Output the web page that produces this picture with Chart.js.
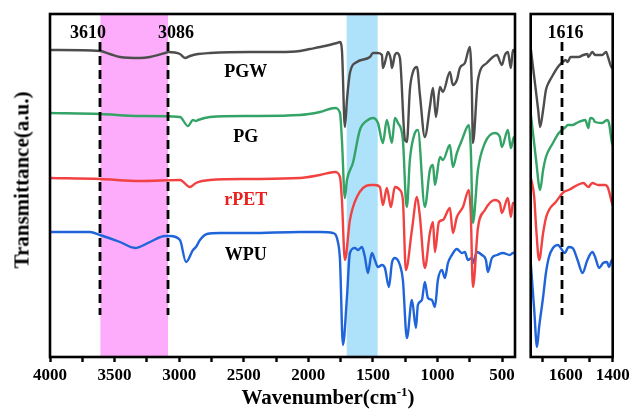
<!DOCTYPE html>
<html>
<head>
<meta charset="utf-8">
<script src="https://cdn.jsdelivr.net/npm/chart.js@4.4.0/dist/chart.umd.min.js"></script>
<style>
  body { margin: 0; background: #fff; }
  #wrap { position: relative; width: 631px; height: 411px; font-family: "Liberation Serif", "Times New Roman", serif; }
  #left { position: absolute; left: 0; top: 0; }
  #right { position: absolute; left: 520px; top: 0; }
  .title { position: absolute; font-weight: bold; font-size: 21px; white-space: nowrap; color: #000; }
  #ytitle { left: 22px; top: 180px; transform: translate(-50%, -50%) rotate(-90deg); }
  #xtitle { left: 328px; top: 397px; transform: translate(-50%, -50%); }
  #xtitle sup { font-size: 13px; line-height: 0; }
</style>
</head>
<body>
<div id="wrap">
  <canvas id="left" width="520" height="411"></canvas>
  <canvas id="right" width="111" height="411"></canvas>
  <div class="title" id="ytitle">Transmittance(a.u.)</div>
  <div class="title" id="xtitle">Wavenumber(cm<sup>-1</sup>)</div>
</div>
<script>
// spectra: [wavenumber, transmittance (a.u., stacked)]
const pgw = [[4000,307],[3613,306],[3536,303],[3458,300],[3303,299],[3226,300],[3110,304],[3087,305],[2994,303],[2955,299],[2916,301],[2854,303],[2762,304],[2452,305],[2220,305],[2065,306],[1988,308],[1910,310],[1779,314],[1755,315],[1740,307],[1717,230],[1701,257],[1678,284],[1624,295],[1523,300],[1500,304],[1461,304],[1430,302],[1423,289],[1392,302],[1384,305],[1361,297],[1353,289],[1330,302],[1314,304],[1291,299],[1252,217],[1237,215],[1214,267],[1190,285],[1159,290],[1136,262],[1098,220],[1059,250],[1035,269],[1012,240],[981,270],[958,265],[904,285],[881,272],[850,277],[827,289],[788,294],[749,310],[734,267],[726,214],[687,277],[618,294],[540,302],[502,292],[478,302],[455,305],[432,289],[416,307],[400,305]];
const pg = [[4000,244],[3613,243],[3303,241],[2994,240],[2932,231],[2893,237],[2870,236],[2854,237],[2762,240],[2452,241],[2065,242],[1910,245],[1794,249],[1755,244],[1740,217],[1717,159],[1701,177],[1655,194],[1601,227],[1539,237],[1500,239],[1461,234],[1423,214],[1392,237],[1353,214],[1330,239],[1306,234],[1268,217],[1245,157],[1237,150],[1214,197],[1175,224],[1152,227],[1098,150],[1059,187],[1035,192],[1020,172],[981,200],[958,197],[904,212],[881,190],[850,204],[811,217],[757,232],[742,207],[726,134],[687,187],[633,214],[556,224],[517,220],[502,210],[455,227],[432,209],[408,220],[400,220]];
const rpet = [[4000,179],[3613,178],[3303,176],[2994,177],[2916,170],[2870,174],[2762,177],[2452,178],[2065,179],[1910,182],[1794,185],[1755,180],[1740,157],[1717,97],[1678,137],[1624,160],[1523,172],[1485,172],[1446,170],[1423,152],[1392,169],[1361,150],[1330,170],[1291,167],[1268,157],[1245,87],[1198,127],[1159,160],[1136,140],[1098,89],[1059,124],[1035,135],[1020,105],[989,135],[958,137],[904,149],[881,124],[850,140],[803,150],[757,167],[742,142],[726,70],[687,129],[633,147],[556,157],[517,154],[502,144],[455,159],[432,140],[416,154],[400,154]];
const wpu = [[4000,125],[3690,125],[3613,122],[3458,115],[3342,109],[3226,115],[3110,121],[3071,121],[2994,117],[2947,95],[2893,107],[2870,110],[2839,117],[2785,123],[2684,124],[2452,124],[2065,125],[1910,125],[1810,124],[1771,115],[1755,97],[1732,12],[1701,60],[1678,104],[1639,109],[1616,107],[1585,110],[1562,100],[1539,84],[1508,104],[1485,97],[1461,90],[1430,92],[1407,89],[1376,70],[1353,94],[1330,99],[1291,92],[1268,77],[1237,19],[1198,57],[1167,29],[1152,52],[1121,57],[1098,75],[1074,59],[1043,57],[1020,50],[997,77],[966,87],[943,79],[919,94],[889,102],[850,108],[811,104],[788,105],[765,97],[734,99],[726,94],[695,105],[656,102],[625,97],[610,85],[579,99],[540,102],[494,104],[440,102],[416,104],[400,104]];

// zoomed 1750-1400 window
const pgwZoom = [[1750,309],[1735,280],[1718,247],[1710,230],[1697,247],[1685,267],[1672,275],[1655,282],[1634,290],[1613,295],[1601,297],[1592,295],[1580,300],[1546,300],[1525,302],[1508,303],[1504,300],[1487,305],[1475,302],[1445,302],[1428,305],[1420,300],[1403,289],[1400,289]];
const pgZoom = [[1750,244],[1727,197],[1710,167],[1697,187],[1685,200],[1655,214],[1630,224],[1601,230],[1592,232],[1571,232],[1546,235],[1517,237],[1504,229],[1496,239],[1483,238],[1475,235],[1445,234],[1424,237],[1416,234],[1403,214],[1400,212]];
const rpetZoom = [[1750,180],[1735,160],[1727,130],[1714,97],[1697,124],[1685,139],[1672,147],[1643,155],[1609,165],[1588,167],[1550,172],[1525,174],[1504,170],[1487,174],[1462,172],[1432,172],[1420,169],[1403,154],[1400,152]];
const wpuZoom = [[1750,95],[1735,47],[1723,10],[1714,30],[1697,60],[1685,84],[1672,100],[1655,109],[1634,112],[1622,109],[1605,104],[1588,110],[1571,109],[1550,97],[1529,84],[1508,97],[1487,105],[1475,100],[1458,89],[1441,94],[1424,95],[1416,90],[1403,97],[1400,97]];

const curveNames = ["PGW", "PG", "rPET", "WPU"];
const leftTicks = [4000, 3750, 3500, 3250, 3000, 2750, 2500, 2250, 2000, 1750, 1500, 1250, 1000, 750, 500];
const leftLabels = [4000, 3500, 3000, 2500, 2000, 1500, 1000, 500];
const rightTicks = [1700, 1600, 1500, 1400];
const rightLabels = [1600, 1400];
const markLines = [3610, 3086];
const markLinesZoom = [1616];

const colors = ["#4d4d4d", "#33a366", "#f24141", "#1f64d8"];
const FONT = '"Liberation Serif", "Times New Roman", serif';

// bands, dashed marker lines, labels and the box frame
const decor = {
  id: "decor",
  beforeDatasetsDraw(chart, args, opts) {
    const { ctx, chartArea: a, scales: { x } } = chart;
    ctx.save();
    opts.bands.forEach(b => {
      const x1 = x.getPixelForValue(b.from), x2 = x.getPixelForValue(b.to);
      ctx.fillStyle = b.color;
      ctx.fillRect(Math.min(x1, x2), a.top, Math.abs(x2 - x1), a.bottom - a.top);
    });
    ctx.restore();
  },
  afterDatasetsDraw(chart, args, opts) {
    const { ctx, chartArea: a, scales: { x, y } } = chart;
    ctx.save();
    ctx.strokeStyle = "#000";
    ctx.lineWidth = 2.8;
    ctx.setLineDash([9, 5]);
    opts.lines.forEach(v => {
      const px = Math.round(x.getPixelForValue(v));
      ctx.beginPath();
      ctx.moveTo(px, y.getPixelForValue(315));
      ctx.lineTo(px, y.getPixelForValue(42));
      ctx.stroke();
    });
    ctx.setLineDash([]);
    ctx.font = "bold 18px " + FONT;
    ctx.textAlign = "center";
    ctx.textBaseline = "middle";
    opts.texts.forEach(t => {
      ctx.fillStyle = t.color || "#000";
      ctx.fillText(t.text, x.getPixelForValue(t.x), y.getPixelForValue(t.y));
    });
    ctx.lineWidth = 2.6;
    ctx.strokeRect(a.left, a.top, a.right - a.left, a.bottom - a.top);
    ctx.restore();
  }
};

function makeChart(id, series, range, ticks, labels, padLeft, padRight, extra) {
  return new Chart(document.getElementById(id), {
    type: "line",
    data: {
      datasets: series.map((s, i) => ({
        label: curveNames[i],
        data: s.map(p => ({ x: p[0], y: p[1] })),
        borderColor: colors[i],
        borderWidth: 2.4,
        pointRadius: 0,
        fill: false,
        cubicInterpolationMode: "monotone"
      }))
    },
    options: {
      responsive: false,
      animation: false,
      layout: { padding: { left: padLeft, right: padRight, top: 14, bottom: 0 } },
      plugins: { legend: { display: false }, tooltip: { enabled: false }, decor: extra },
      scales: {
        x: {
          type: "linear",
          reverse: true,
          min: range[1],
          max: range[0],
          afterBuildTicks: s => { s.ticks = ticks.map(v => ({ value: v })); },
          afterFit: s => { s.height = 54; s.paddingLeft = 0; s.paddingRight = 0; },
          border: { display: false },
          grid: { display: true, drawOnChartArea: false, drawTicks: true, tickLength: 5, tickWidth: 2.4, tickColor: "#000" },
          ticks: {
            autoSkip: false,
            maxRotation: 0,
            padding: 3,
            color: "#000",
            font: { family: FONT, size: 17, weight: "bold" },
            callback: v => labels.includes(v) ? String(v) : ""
          }
        },
        y: { display: false, min: 0, max: 343 }
      }
    },
    plugins: [decor]
  });
}

makeChart("left", [pgw, pg, rpet, wpu], [4000, 400], leftTicks, leftLabels, 50, 5, {
  bands: [{ from: 3610, to: 3086, color: "#fdacfc" }, { from: 1703, to: 1463, color: "#aee2fa" }],
  lines: markLines,
  texts: [
    { text: "3610", x: 3706, y: 324 },
    { text: "3086", x: 3025, y: 324 },
    { text: "PGW", x: 2485, y: 285 },
    { text: "PG", x: 2485, y: 220 },
    { text: "rPET", x: 2485, y: 157, color: "#e8201e" },
    { text: "WPU", x: 2485, y: 102 }
  ]
});

makeChart("right", [pgwZoom, pgZoom, rpetZoom, wpuZoom], [1750, 1400], rightTicks, rightLabels, 10.7, 18.3, {
  bands: [],
  lines: markLinesZoom,
  texts: [{ text: "1616", x: 1601, y: 324 }]
});
</script>
</body>
</html>
